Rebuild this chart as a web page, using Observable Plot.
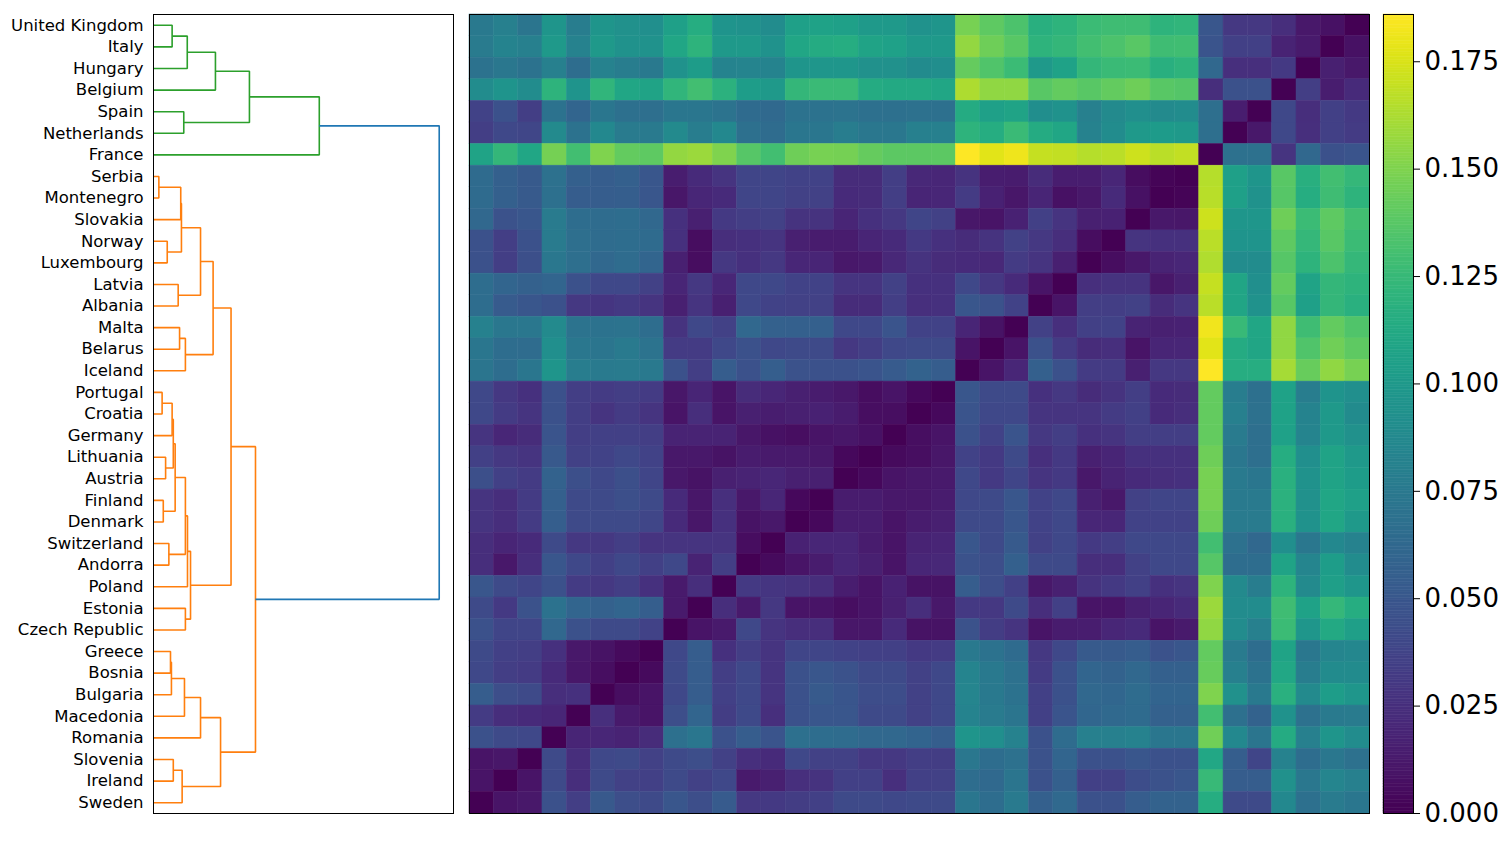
<!DOCTYPE html>
<html><head><meta charset="utf-8">
<script src="https://cdn.jsdelivr.net/npm/d3@7"></script>
<script src="https://cdn.jsdelivr.net/npm/@observablehq/plot@0.6"></script>
<style>
body{margin:0;background:#fff;width:1512px;height:841px;overflow:hidden;position:relative;font-family:"DejaVu Sans",sans-serif}
.p{position:absolute;top:0}
</style></head><body>
<div id="dendro" class="p" style="left:0px"></div>
<div id="heat" class="p" style="left:460px"></div>
<div id="cbar" class="p" style="left:1372px"></div>
<script>
// leaf order, top to bottom
const countries = ["United Kingdom","Italy","Hungary","Belgium","Spain","Netherlands","France","Serbia","Montenegro","Slovakia","Norway","Luxembourg","Latvia","Albania","Malta","Belarus","Iceland","Portugal","Croatia","Germany","Lithuania","Austria","Finland","Denmark","Switzerland","Andorra","Poland","Estonia","Czech Republic","Greece","Bosnia","Bulgaria","Macedonia","Romania","Slovenia","Ireland","Sweden"];

// heatmap rows (same order as countries); columns run in reverse order (Sweden ... United Kingdom)
const distanceRows = [
[0.075,0.08,0.072,0.097,0.078,0.097,0.093,0.092,0.105,0.115,0.096,0.094,0.09,0.105,0.107,0.105,0.1,0.1,0.095,0.097,0.148,0.14,0.133,0.117,0.12,0.127,0.128,0.128,0.12,0.122,0.05,0.03,0.03,0.024,0.012,0.008,0],
[0.077,0.083,0.08,0.1,0.082,0.1,0.095,0.095,0.11,0.12,0.1,0.1,0.095,0.11,0.114,0.115,0.108,0.106,0.1,0.1,0.156,0.145,0.138,0.12,0.123,0.13,0.133,0.138,0.128,0.129,0.048,0.035,0.035,0.018,0.013,0,0.008],
[0.07,0.074,0.07,0.08,0.066,0.082,0.078,0.075,0.095,0.102,0.083,0.084,0.083,0.097,0.098,0.098,0.093,0.093,0.089,0.091,0.142,0.135,0.127,0.1,0.107,0.123,0.126,0.127,0.117,0.12,0.062,0.025,0.025,0.031,0,0.016,0.012],
[0.09,0.096,0.09,0.12,0.096,0.122,0.11,0.108,0.122,0.13,0.119,0.103,0.1,0.123,0.126,0.126,0.114,0.112,0.112,0.11,0.163,0.155,0.155,0.138,0.141,0.138,0.141,0.145,0.138,0.136,0.024,0.046,0.046,0,0.034,0.015,0.022],
[0.037,0.046,0.034,0.07,0.06,0.073,0.068,0.067,0.073,0.073,0.071,0.064,0.063,0.07,0.07,0.071,0.068,0.068,0.069,0.068,0.114,0.105,0.108,0.091,0.094,0.08,0.088,0.092,0.088,0.09,0.067,0.015,0,0.04,0.024,0.035,0.031],
[0.034,0.04,0.039,0.088,0.07,0.087,0.077,0.076,0.088,0.078,0.087,0.068,0.065,0.073,0.073,0.078,0.074,0.074,0.08,0.08,0.12,0.115,0.126,0.114,0.11,0.082,0.09,0.1,0.101,0.1,0.067,0,0.012,0.04,0.025,0.035,0.032],
[0.108,0.123,0.11,0.147,0.13,0.15,0.141,0.14,0.156,0.158,0.15,0.137,0.13,0.145,0.148,0.147,0.142,0.139,0.139,0.139,0.186,0.178,0.181,0.17,0.169,0.165,0.167,0.172,0.167,0.169,0,0.069,0.069,0.028,0.062,0.046,0.048],
[0.064,0.056,0.052,0.069,0.056,0.054,0.056,0.05,0.015,0.022,0.028,0.038,0.038,0.037,0.037,0.023,0.023,0.034,0.021,0.02,0.027,0.015,0.014,0.023,0.015,0.015,0.02,0.006,0.002,0,0.165,0.105,0.097,0.138,0.117,0.13,0.124],
[0.064,0.056,0.052,0.068,0.054,0.054,0.055,0.05,0.011,0.02,0.022,0.038,0.038,0.036,0.036,0.022,0.023,0.034,0.019,0.02,0.032,0.017,0.011,0.019,0.008,0.012,0.022,0.008,0,0.002,0.166,0.105,0.095,0.137,0.115,0.128,0.12],
[0.062,0.047,0.05,0.077,0.066,0.065,0.066,0.062,0.026,0.016,0.031,0.034,0.036,0.027,0.027,0.019,0.026,0.03,0.038,0.036,0.011,0.01,0.017,0.035,0.028,0.016,0.017,0,0.012,0.011,0.172,0.098,0.098,0.145,0.127,0.14,0.13],
[0.046,0.034,0.046,0.077,0.067,0.065,0.066,0.064,0.026,0.006,0.024,0.026,0.028,0.016,0.014,0.014,0.019,0.022,0.031,0.026,0.023,0.027,0.036,0.03,0.024,0.006,0,0.028,0.026,0.026,0.167,0.096,0.096,0.14,0.124,0.138,0.127],
[0.046,0.034,0.045,0.074,0.067,0.062,0.065,0.06,0.016,0.006,0.03,0.026,0.03,0.02,0.019,0.012,0.013,0.021,0.027,0.023,0.022,0.021,0.032,0.028,0.016,0,0.006,0.012,0.018,0.02,0.164,0.09,0.09,0.137,0.12,0.133,0.124],
[0.066,0.06,0.057,0.06,0.046,0.04,0.04,0.036,0.019,0.03,0.02,0.04,0.04,0.037,0.037,0.028,0.028,0.036,0.026,0.026,0.04,0.03,0.022,0.01,0,0.025,0.027,0.027,0.011,0.016,0.17,0.109,0.092,0.141,0.108,0.123,0.12],
[0.066,0.053,0.05,0.046,0.03,0.029,0.031,0.028,0.016,0.028,0.016,0.04,0.037,0.036,0.036,0.023,0.023,0.034,0.025,0.026,0.05,0.047,0.037,0,0.01,0.034,0.034,0.036,0.023,0.028,0.167,0.109,0.094,0.138,0.105,0.123,0.118],
[0.081,0.074,0.074,0.088,0.071,0.07,0.071,0.066,0.027,0.04,0.036,0.062,0.057,0.056,0.056,0.04,0.04,0.048,0.037,0.037,0.019,0.009,0,0.036,0.025,0.035,0.037,0.018,0.016,0.017,0.182,0.125,0.11,0.155,0.128,0.141,0.135],
[0.073,0.066,0.065,0.092,0.074,0.072,0.076,0.071,0.032,0.032,0.04,0.046,0.04,0.042,0.042,0.03,0.034,0.04,0.042,0.042,0.01,0,0.01,0.046,0.032,0.023,0.025,0.01,0.019,0.02,0.178,0.114,0.109,0.155,0.135,0.146,0.14],
[0.072,0.066,0.073,0.097,0.078,0.076,0.077,0.075,0.046,0.034,0.054,0.046,0.055,0.047,0.046,0.046,0.048,0.053,0.058,0.054,0,0.01,0.02,0.056,0.046,0.032,0.032,0.016,0.03,0.03,0.186,0.116,0.116,0.161,0.143,0.155,0.148],
[0.04,0.03,0.026,0.046,0.034,0.032,0.034,0.032,0.011,0.019,0.01,0.023,0.02,0.016,0.014,0.012,0.006,0.01,0.004,0,0.05,0.042,0.042,0.026,0.03,0.023,0.027,0.034,0.022,0.023,0.141,0.078,0.068,0.107,0.078,0.096,0.092],
[0.04,0.032,0.028,0.046,0.034,0.028,0.032,0.028,0.01,0.024,0.01,0.016,0.015,0.016,0.017,0.014,0.007,0.007,0,0.004,0.048,0.04,0.04,0.028,0.028,0.028,0.032,0.035,0.022,0.024,0.141,0.08,0.069,0.107,0.083,0.1,0.089],
[0.028,0.02,0.023,0.048,0.034,0.035,0.035,0.034,0.018,0.018,0.018,0.011,0.008,0.007,0.01,0.011,0.008,0,0.007,0.01,0.046,0.037,0.048,0.03,0.034,0.026,0.028,0.034,0.034,0.034,0.141,0.077,0.067,0.106,0.084,0.1,0.093],
[0.035,0.03,0.028,0.051,0.036,0.037,0.04,0.037,0.012,0.012,0.009,0.014,0.013,0.013,0.012,0.004,0,0.005,0.007,0.011,0.037,0.031,0.042,0.025,0.031,0.016,0.019,0.026,0.026,0.026,0.145,0.074,0.067,0.115,0.092,0.108,0.1],
[0.045,0.035,0.032,0.058,0.045,0.04,0.045,0.038,0.012,0.009,0.016,0.018,0.02,0.016,0.016,0,0.004,0.01,0.012,0.013,0.04,0.031,0.038,0.028,0.031,0.012,0.018,0.022,0.024,0.026,0.148,0.076,0.073,0.118,0.095,0.108,0.102],
[0.028,0.024,0.032,0.056,0.042,0.042,0.045,0.042,0.022,0.011,0.025,0.012,0.02,0.004,0,0.014,0.014,0.012,0.012,0.014,0.04,0.042,0.05,0.037,0.04,0.016,0.012,0.036,0.038,0.038,0.148,0.076,0.076,0.119,0.093,0.11,0.105],
[0.028,0.024,0.032,0.055,0.042,0.042,0.042,0.039,0.022,0.011,0.026,0.009,0.012,0,0.004,0.015,0.015,0.01,0.014,0.016,0.042,0.042,0.05,0.037,0.04,0.02,0.02,0.037,0.037,0.037,0.145,0.077,0.077,0.118,0.095,0.11,0.1],
[0.024,0.019,0.022,0.042,0.03,0.03,0.034,0.028,0.028,0.028,0.028,0.006,0,0.017,0.02,0.02,0.014,0.01,0.018,0.019,0.05,0.042,0.052,0.036,0.04,0.031,0.034,0.04,0.04,0.04,0.13,0.069,0.062,0.092,0.074,0.087,0.082],
[0.024,0.012,0.024,0.05,0.04,0.035,0.04,0.035,0.04,0.018,0.034,0,0.005,0.01,0.014,0.02,0.016,0.01,0.02,0.021,0.047,0.044,0.056,0.042,0.042,0.024,0.024,0.036,0.04,0.04,0.137,0.066,0.066,0.108,0.085,0.103,0.09],
[0.05,0.042,0.038,0.046,0.032,0.03,0.034,0.026,0.013,0.024,0,0.031,0.029,0.027,0.024,0.015,0.01,0.017,0.009,0.009,0.054,0.044,0.035,0.012,0.016,0.027,0.031,0.035,0.026,0.028,0.15,0.088,0.078,0.12,0.088,0.104,0.098],
[0.042,0.031,0.047,0.07,0.06,0.057,0.06,0.055,0.013,0,0.024,0.013,0.03,0.01,0.01,0.007,0.01,0.016,0.024,0.012,0.031,0.03,0.042,0.024,0.035,0.01,0.01,0.016,0.019,0.022,0.158,0.09,0.09,0.128,0.107,0.124,0.115],
[0.046,0.038,0.038,0.062,0.046,0.042,0.042,0.037,0,0.01,0.013,0.04,0.028,0.024,0.024,0.011,0.011,0.022,0.009,0.009,0.047,0.033,0.028,0.01,0.014,0.015,0.02,0.022,0.01,0.013,0.155,0.09,0.08,0.127,0.098,0.112,0.104],
[0.042,0.035,0.034,0.026,0.012,0.009,0.005,0,0.04,0.054,0.026,0.034,0.028,0.038,0.038,0.037,0.035,0.035,0.031,0.032,0.075,0.07,0.064,0.03,0.04,0.052,0.052,0.054,0.047,0.05,0.141,0.077,0.066,0.108,0.074,0.085,0.086],
[0.04,0.034,0.032,0.022,0.011,0.007,0,0.005,0.042,0.054,0.034,0.04,0.028,0.046,0.05,0.047,0.042,0.042,0.036,0.04,0.084,0.075,0.069,0.032,0.046,0.06,0.058,0.062,0.056,0.056,0.143,0.08,0.07,0.111,0.078,0.089,0.089],
[0.054,0.044,0.042,0.024,0.026,0,0.007,0.01,0.04,0.054,0.035,0.04,0.028,0.046,0.052,0.049,0.043,0.043,0.036,0.04,0.085,0.075,0.07,0.035,0.046,0.062,0.061,0.065,0.059,0.059,0.15,0.093,0.075,0.118,0.088,0.103,0.098],
[0.032,0.024,0.022,0.02,0,0.025,0.013,0.01,0.044,0.06,0.033,0.041,0.025,0.046,0.05,0.05,0.042,0.042,0.036,0.04,0.083,0.077,0.072,0.035,0.048,0.061,0.063,0.064,0.057,0.057,0.13,0.068,0.058,0.095,0.069,0.076,0.077],
[0.046,0.042,0.04,0,0.019,0.02,0.018,0.023,0.068,0.073,0.046,0.054,0.048,0.068,0.066,0.065,0.062,0.062,0.059,0.055,0.097,0.092,0.082,0.046,0.065,0.08,0.08,0.082,0.073,0.073,0.146,0.087,0.072,0.114,0.08,0.097,0.09],
[0.01,0.011,0,0.042,0.024,0.04,0.042,0.036,0.042,0.044,0.036,0.025,0.022,0.04,0.036,0.036,0.03,0.03,0.034,0.033,0.074,0.066,0.069,0.047,0.06,0.046,0.046,0.05,0.046,0.046,0.111,0.055,0.038,0.082,0.066,0.074,0.069],
[0.01,0,0.01,0.042,0.024,0.042,0.036,0.035,0.042,0.036,0.04,0.013,0.016,0.025,0.027,0.035,0.035,0.025,0.035,0.036,0.066,0.063,0.072,0.046,0.056,0.035,0.036,0.043,0.047,0.05,0.125,0.054,0.054,0.093,0.074,0.085,0.08],
[0,0.01,0.012,0.046,0.034,0.051,0.044,0.042,0.05,0.044,0.053,0.03,0.031,0.033,0.035,0.042,0.042,0.04,0.042,0.042,0.073,0.066,0.076,0.056,0.063,0.046,0.046,0.054,0.058,0.058,0.115,0.042,0.042,0.087,0.068,0.077,0.073]
];

// dendrogram merges: [child A, child B, height]; numbers refer to earlier merges
const merges = [
["Serbia","Montenegro",0.0023],
["Portugal","Croatia",0.0037],
["Finland","Denmark",0.0042],
["Lithuania","Austria",0.0052],
["Norway","Luxembourg",0.0059],
["Switzerland","Andorra",0.0066],
["Greece","Bosnia",0.0073],
[6,"Bulgaria",0.0077],
["United Kingdom","Italy",0.0080],
[1,"Germany",0.0080],
["Slovenia","Ireland",0.0085],
[9,3,0.0085],
[11,2,0.0093],
["Latvia","Albania",0.0106],
["Malta","Belarus",0.0112],
[0,"Slovakia",0.0117],
[15,4,0.0120],
[10,"Sweden",0.0123],
["Spain","Netherlands",0.0130],
[7,"Macedonia",0.0133],
[14,"Iceland",0.0137],
[12,5,0.0137],
["Estonia","Czech Republic",0.0137],
[8,"Hungary",0.0145],
[21,"Poland",0.0146],
[24,22,0.0159],
[16,13,0.0202],
[19,"Romania",0.0202],
[26,20,0.0256],
[23,"Belgium",0.0266],
[27,17,0.0288],
[28,25,0.0333],
[29,18,0.0412],
[31,30,0.0438],
[32,"France",0.0712],
[34,33,0.1227]
];

const cbarTicks = [0,0.025,0.05,0.075,0.1,0.125,0.15,0.175];
const linkColors = {upper:"#2ca02c", lower:"#ff7f0e", root:"#1f77b4"};

// ---------- dendrogram ----------
const nodes = merges.map(() => null);
const leafY = name => countries.indexOf(name);
function pos(ref){ return typeof ref === "number" ? nodes[ref] : {y: leafY(ref), h: 0, members: [ref]}; }
merges.forEach(([a,b,h],i) => {
  const A = pos(a), B = pos(b);
  nodes[i] = {y:(A.y+B.y)/2, h, members: A.members.concat(B.members), A, B};
});
const rootIdx = merges.length - 1;
const upperSet = new Set(pos(merges[rootIdx][0]).members);
const segs = [];
nodes.forEach((n, i) => {
  const col = i === rootIdx ? linkColors.root : (upperSet.has(n.members[0]) ? linkColors.upper : linkColors.lower);
  [[n.A.h,n.A.y],[n.h,n.A.y],[n.h,n.B.y],[n.B.h,n.B.y]].forEach(([x,y]) => segs.push({id:i, x, y, col}));
});
const maxH = d3.max(merges, d => d[2]);

const H = 841, MT = 14, MB = 28;
const dendro = Plot.plot({
  width: 460, height: H, marginLeft: 153, marginRight: 7, marginTop: MT, marginBottom: MB,
  x: {domain: [0, maxH*1.05], axis: null},
  y: {domain: [countries.length-0.5, -0.5], range: [H-MB, MT]},
  style: {fontFamily: "DejaVu Sans", fontSize: "16.5px", color: "black", background: "white"},
  marks: [
    Plot.line(segs, {x:"x", y:"y", z:"id", stroke:"col", strokeWidth:1.6, strokeLinejoin:"miter", strokeLinecap:"butt"}),
    Plot.axisY({ticks: d3.range(countries.length), tickFormat: i => countries[i], tickSize: 0, tickPadding: 10, fontSize: 16.5, label: null}),
    Plot.frame({stroke:"black", strokeWidth:1})
  ]
});
document.getElementById("dendro").append(dendro);

// ---------- heatmap ----------
const colOrder = countries.slice().reverse();
const cells = distanceRows.flatMap((row, r) => row.map((v, c) => ({row: countries[r], col: colOrder[c], v})));
const vmax = d3.max(cells, d => d.v);
const colorCfg = {type: "linear", scheme: "viridis", domain: [0, vmax]};
const heat = Plot.plot({
  width: 912, height: H, marginLeft: 9, marginRight: 3, marginTop: MT, marginBottom: MB,
  x: {type: "band", domain: colOrder, padding: 0, round: false, axis: null},
  y: {type: "band", domain: countries, padding: 0, round: false, axis: null},
  color: colorCfg,
  style: {background: "white"},
  marks: [
    Plot.cell(cells, {x:"col", y:"row", fill:"v", stroke:"v", strokeWidth:0.5, inset: 0}),
    Plot.frame({stroke:"black", strokeWidth:1})
  ]
});
document.getElementById("heat").append(heat);

// ---------- colorbar ----------
const steps = d3.range(300).map(i => ({y1: vmax*i/300, y2: vmax*(i+1)/300, v: vmax*(i+0.5)/300}));
const cbar = Plot.plot({
  width: 140, height: H, marginLeft: 11, marginRight: 99, marginTop: MT, marginBottom: MB,
  y: {domain: [0, vmax], range: [H-MB, MT]},
  color: colorCfg,
  style: {fontFamily: "DejaVu Sans", fontSize: "26px", color: "black", background: "white", overflow: "visible"},
  marks: [
    Plot.rect(steps, {y1:"y1", y2:"y2", fill:"v", stroke:"v", strokeWidth:0.5}),
    Plot.axisY({anchor:"right", ticks: cbarTicks, tickFormat: d3.format(".3f"), tickSize: 6, tickPadding: 5, fontSize: 26, label: null}),
    Plot.frame({stroke:"black", strokeWidth:1})
  ]
});
document.getElementById("cbar").append(cbar);
</script>
</body></html>
